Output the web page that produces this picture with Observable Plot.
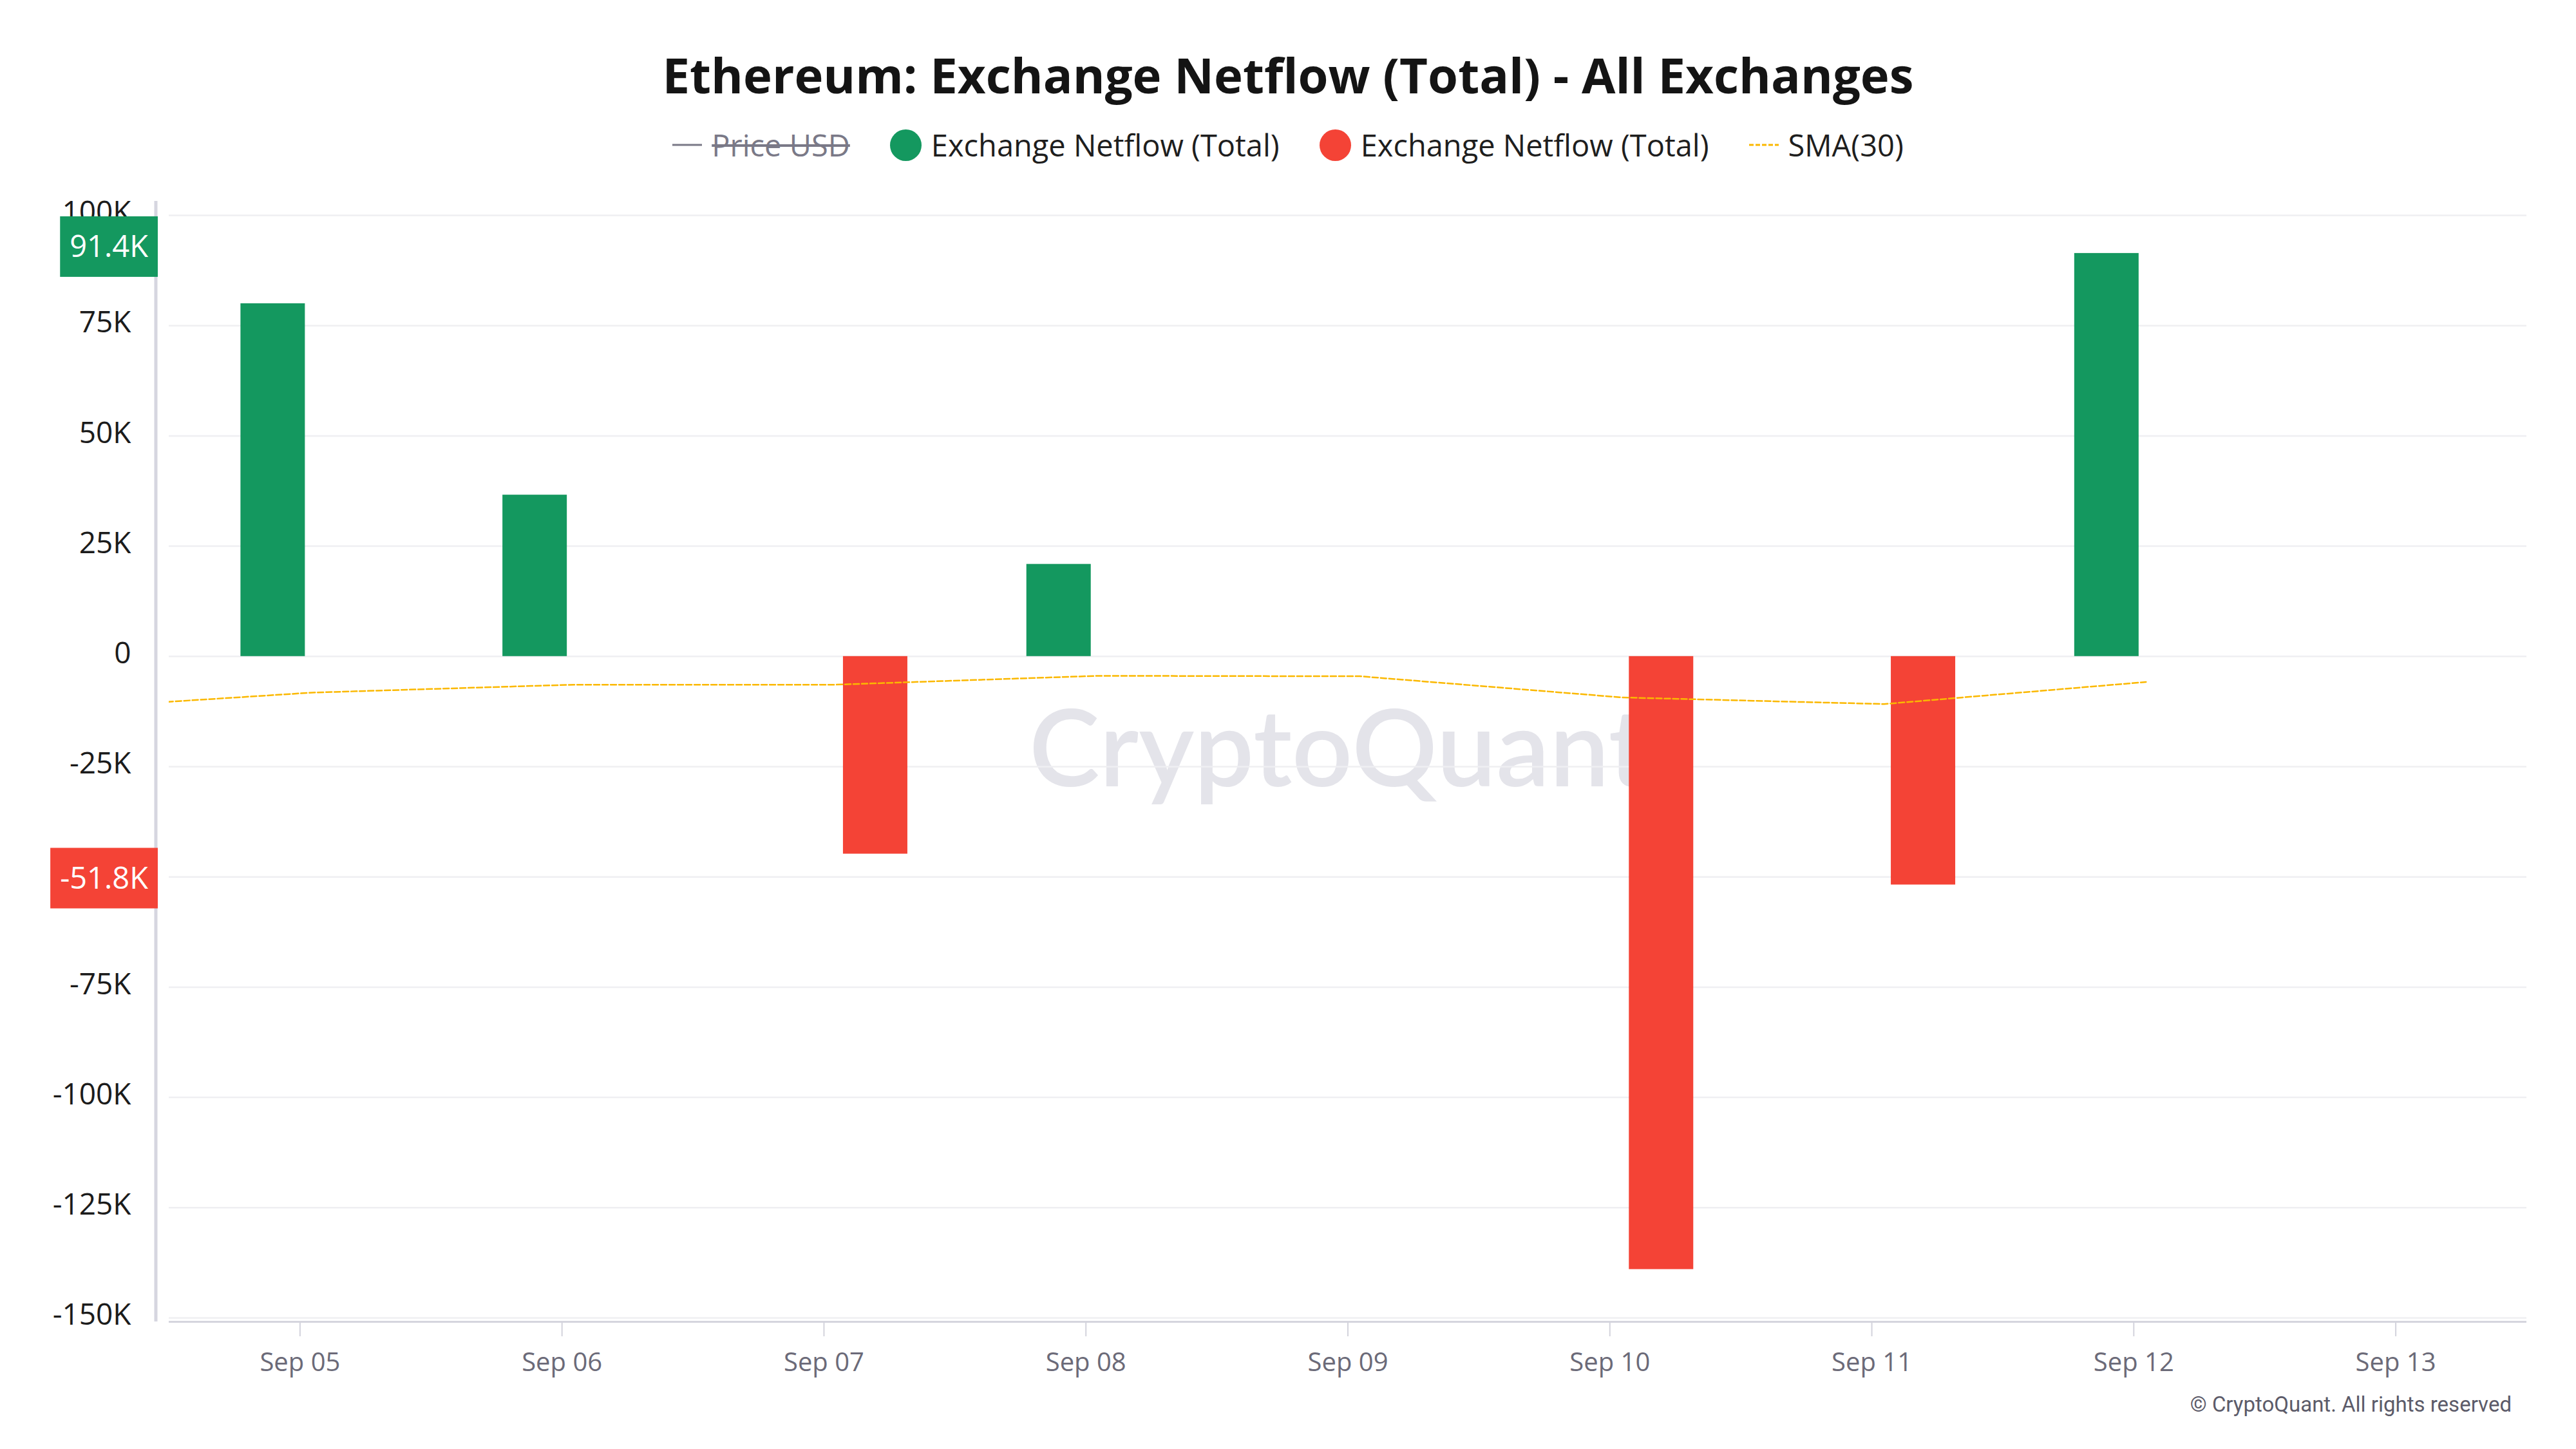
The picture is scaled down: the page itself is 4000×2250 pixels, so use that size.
<!DOCTYPE html>
<html>
<head>
<meta charset="utf-8">
<script src="https://cdn.jsdelivr.net/npm/d3@7"></script>
<script src="https://cdn.jsdelivr.net/npm/@observablehq/plot@0.6"></script>
<style>
  html, body { margin: 0; padding: 0; background: #fff; }
  body { width: 4000px; height: 2250px; position: relative; overflow: hidden; font-family: "Open Sans", sans-serif; }
  #title { position: absolute; left: 0; top: 66px; width: 4000px; text-align: center; font-weight: 700; font-size: 76px; line-height: 100px; color: #141414; }
  #legend { position: absolute; left: 0; top: 195px; width: 4000px; display: flex; justify-content: center; align-items: center; font-size: 47px; line-height: 60px; color: #1e1e1e; }
  .item { display: flex; align-items: center; margin: 0 31px; }
  .item .lab { margin-left: 15px; }
  .dot { width: 49px; height: 49px; border-radius: 50%; display: inline-block; }
  #chart { position: absolute; left: 0; top: 280px; }
  #credit { position: absolute; right: 100px; top: 2159px; font-family: Roboto, sans-serif; font-size: 33px; line-height: 44px; color: #5c5b69; }
</style>
</head>
<body>
<div id="title"></div>
<div id="legend"></div>
<div id="chart"></div>
<div id="credit"></div>
<script>
// ---- data ----
const titleText = "Ethereum: Exchange Netflow (Total) - All Exchanges";
const legendLabels = ["Price USD", "Exchange Netflow (Total)", "Exchange Netflow (Total)", "SMA(30)"];
const creditText = "© CryptoQuant. All rights reserved";
const watermark = "CryptoQuant";

const netflowDates = ["2024-09-05", "2024-09-06", "2024-09-07", "2024-09-08", "2024-09-09", "2024-09-10", "2024-09-11", "2024-09-12"];
const netflow = [80000, 36600, -44800, 20900, 0, -139000, -51800, 91400];

const smaDates = ["2024-09-04", "2024-09-05", "2024-09-06", "2024-09-07", "2024-09-08", "2024-09-09", "2024-09-10", "2024-09-11", "2024-09-12"];
const sma30 = [-12000, -8200, -6400, -6400, -4400, -4500, -9300, -10800, -5800];

const xTickDates = ["2024-09-05", "2024-09-06", "2024-09-07", "2024-09-08", "2024-09-09", "2024-09-10", "2024-09-11", "2024-09-12", "2024-09-13"];
const yTicks = [100000, 75000, 50000, 25000, 0, -25000, -50000, -75000, -100000, -125000, -150000];

// ---- colours ----
const GREEN = "#14985f", RED = "#f44336", GOLD = "#fbb800", PRICE = "#7a7987";

// ---- title / legend / credit ----
document.getElementById("title").textContent = titleText;
document.getElementById("credit").textContent = creditText;
const legend = document.getElementById("legend");
legend.innerHTML = `
  <span class="item"><svg width="46" height="10"><line x1="0" x2="46" y1="5" y2="5" stroke="${PRICE}" stroke-width="3"/></svg><span class="lab" style="color:${PRICE};text-decoration:line-through">${legendLabels[0]}</span></span>
  <span class="item"><span class="dot" style="background:${GREEN}"></span><span class="lab">${legendLabels[1]}</span></span>
  <span class="item"><span class="dot" style="background:${RED}"></span><span class="lab">${legendLabels[2]}</span></span>
  <span class="item"><svg width="46" height="10"><line x1="0" x2="46" y1="5" y2="5" stroke="${GOLD}" stroke-width="3" stroke-dasharray="7,3"/></svg><span class="lab">${legendLabels[3]}</span></span>`;

// ---- derived tables ----
const parse = d3.utcParse("%Y-%m-%d");
const flows = netflowDates.map((d, i) => ({date: parse(d), value: netflow[i]}));
const smaData = smaDates.map((d, i) => ({date: parse(d), value: sma30[i]}));
const ticks = xTickDates.map(parse);
const xDomain = [d3.utcHour.offset(ticks[0], -12), d3.utcHour.offset(ticks[ticks.length - 1], 12)];

const yFmt = v => v === 0 ? "0" : (v / 1000) + "K";
const tagFmt = v => (v / 1000).toFixed(1) + "K";

const measureCtx = document.createElement("canvas").getContext("2d");
measureCtx.font = "47px 'Open Sans'";

const lastPos = flows.filter(d => d.value > 0).at(-1).value;
const lastNeg = flows.filter(d => d.value < 0).at(-1).value;

function sideMarks(index, scales, values, dims) {
  const g = d3.create("svg:g");
  const ax = dims.marginLeft - 20;
  g.append("line")
    .attr("x1", ax).attr("x2", ax)
    .attr("y1", dims.marginTop - 22).attr("y2", dims.height - dims.marginBottom + 6)
    .attr("stroke", "#d6d6e0").attr("stroke-width", 5);
  for (const [v, color] of [[lastPos, GREEN], [lastNeg, RED]]) {
    const label = tagFmt(v);
    const w = measureCtx.measureText(label).width + 30;
    const right = dims.marginLeft - 17;
    const cy = scales.y(v) - 10;
    g.append("rect").attr("x", right - w).attr("y", cy - 47).attr("width", w).attr("height", 94).attr("fill", color);
    g.append("text").attr("x", right - w / 2).attr("y", cy).attr("dy", "0.35em")
      .attr("text-anchor", "middle").attr("fill", "#fff")
      .attr("font-size", 47).attr("font-family", "'Open Sans'").text(label);
  }
  return g.node();
}

const chart = Plot.plot({
  width: 4000,
  height: 1900,
  marginTop: 54,
  marginBottom: 134,
  marginLeft: 262,
  marginRight: 77,
  style: {fontFamily: "'Open Sans', sans-serif", background: "transparent", overflow: "visible"},
  x: {type: "utc", domain: xDomain},
  y: {domain: [-150000, 100000]},
  marks: [
    Plot.text([watermark], {frameAnchor: "middle", dx: -15, dy: -22, fontSize: 165, fontWeight: 600, fontFamily: "Lato", fill: "#e4e4ea"}),
    Plot.gridY(yTicks, {stroke: "#efeff2", strokeOpacity: 1, strokeWidth: 2.5}),
    Plot.ruleY([-150000], {dy: 6, stroke: "#d5d5de", strokeWidth: 3}),
    Plot.rect(flows.filter(d => d.value > 0), {x1: "date", x2: "date", y1: 0, y2: "value", insetLeft: -50, insetRight: -50, dx: -42, fill: GREEN}),
    Plot.rect(flows.filter(d => d.value < 0), {x1: "date", x2: "date", y1: 0, y2: "value", insetLeft: -50, insetRight: -50, dx: 80, fill: RED}),
    Plot.line(smaData, {x: "date", y: "value", dx: 19, stroke: GOLD, strokeWidth: 2.5, strokeDasharray: "9,4", clip: true}),
    Plot.axisY({ticks: yTicks, label: null, tickSize: 0, tickPadding: 59, dy: -4, tickFormat: yFmt, fontSize: 46, fill: "#1b1b1b"}),
    Plot.axisX({ticks, label: null, tickFormat: d3.utcFormat("%b %d"), tickSize: 22, tickPadding: 25, dy: 7, fontSize: 40, stroke: "#d3d3dc", strokeWidth: 2, fill: "#6b6a78"}),
    sideMarks
  ]
});
document.getElementById("chart").appendChild(chart);
</script>
</body>
</html>
